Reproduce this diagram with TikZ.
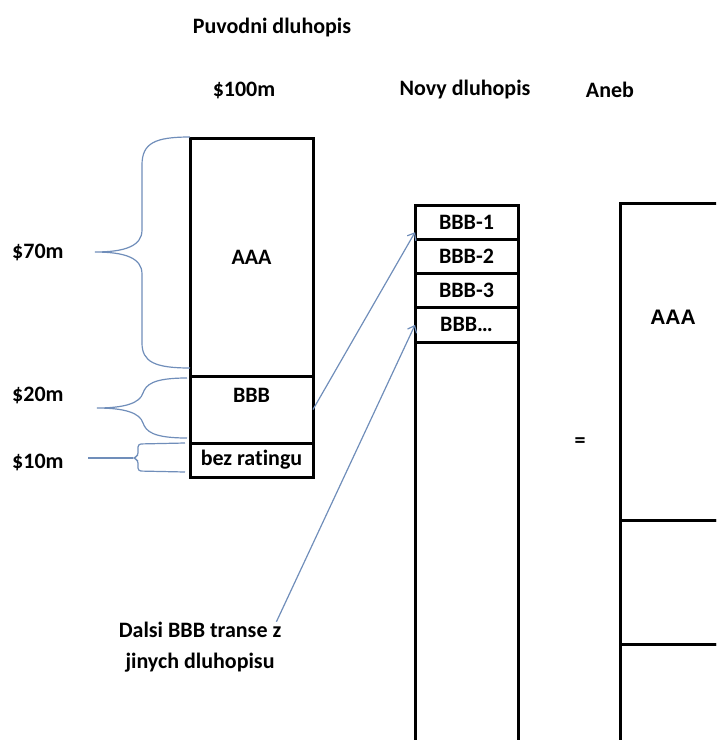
\documentclass[tikz,border=0pt]{standalone}
\usepackage{fontspec}
\setmainfont{Carlito}[Ligatures=NoCommon]
\newfontfamily\arialfont{Liberation Sans}
\usetikzlibrary{positioning,arrows.meta}
\definecolor{bracecol}{RGB}{112,142,186}
\tikzset{
  txt/.style={font=\fontsize{22}{31}\selectfont\bfseries, inner sep=0pt},
  cell/.style={draw, line width=3pt, outer sep=0pt, inner sep=0pt, txt},
  curly/.style={draw=bracecol, line width=1.2pt},
  link/.style={draw=bracecol, line width=1.2pt, -{Straight Barb[length=6pt,width=10pt]}}
}
\begin{document}
\begin{tikzpicture}[x=1pt,y=-1pt]
\useasboundingbox (0,0) rectangle (716,740);
\clip (0,0) rectangle (716,740);
% headings
\node[txt] (puv) at (272,28) {Puvodni dluhopis};
\node[txt] (sto) at (244,90) {\$100m};
\node[txt] (novy) at (465,90) {Novy dluhopis};
\node[txt] (aneb) at (610,90) {Aneb};
% original bond
\node[cell, minimum width=123pt, minimum height=238pt, anchor=north west] (aaa) at (190,138) {AAA};
\node[cell, minimum width=123pt, minimum height=67pt, below=0pt of aaa] (bbb) {};
\node[cell, minimum width=123pt, minimum height=34pt, below=0pt of bbb] (bez) {bez ratingu};
\node[txt] (bbbt) at ([yshift=-19pt]bbb.north) {BBB};
% tranche sizes
\node[txt, anchor=west] (l70) at (12,252) {\$70m};
\node[txt, anchor=west] (l20) at (12,395) {\$20m};
\node[txt, anchor=west] (l10) at (12,462) {\$10m};
\draw[curly] (190,137) .. controls (155,137) and (142,143) .. (142,165) -- (142,230)
  .. controls (142,246) and (125,252) .. (95,252)
  .. controls (125,252) and (142,258) .. (142,274) -- (142,343)
  .. controls (142,362) and (155,368) .. (190,368);
\draw[curly] (187,378) .. controls (152,378) and (146,385) .. (143,393)
  .. controls (140,403) and (125,408) .. (97,408)
  .. controls (125,408) and (140,413) .. (143,423)
  .. controls (146,431) and (152,438) .. (187,438);
\coordinate (s10) at (88,458);
\coordinate (t10) at (133,458);
\draw[curly, rounded corners=3pt] (185,443) -- (138,444) -- (138,456) -- (t10)
  -- (138,460) -- (138,471) -- (185,472);
\draw[curly] (s10) -- (t10);
% new bond
\node[cell, minimum width=103pt, minimum height=34.25pt, anchor=north west] (b1) at (415,205) {BBB-1};
\node[cell, minimum width=103pt, minimum height=34.25pt, below=0pt of b1] (b2) {BBB-2};
\node[cell, minimum width=103pt, minimum height=34.25pt, below=0pt of b2] (b3) {BBB-3};
\node[cell, minimum width=103pt, minimum height=34.25pt, below=0pt of b3] (b4) {BBB\ldots};
\node[cell, minimum width=103pt, minimum height=420pt, below=0pt of b4] (rest) {};
\node[txt] (eq) at (580,443) {=};
% or
\node[cell, minimum width=130pt, minimum height=317pt, anchor=north west] (big) at (620,203) {};
\node[cell, minimum width=130pt, minimum height=124pt, below=0pt of big] (mid) {};
\node[cell, minimum width=130pt, minimum height=120pt, below=0pt of mid] (low) {};
\node[txt, font=\fontsize{21}{25}\selectfont\arialfont\bfseries] (aaar) at (673,317) {AAA};
% other tranches
\node[txt, align=center] (dalsi) at (200,647) {Dalsi BBB transe z\\jinych dluhopisu};
\draw[link] (bbb.east) -- ([yshift=7pt]b1.south west);
\draw[link] ([xshift=-5pt]dalsi.north east) -- (b4.west);
\end{tikzpicture}
\end{document}
